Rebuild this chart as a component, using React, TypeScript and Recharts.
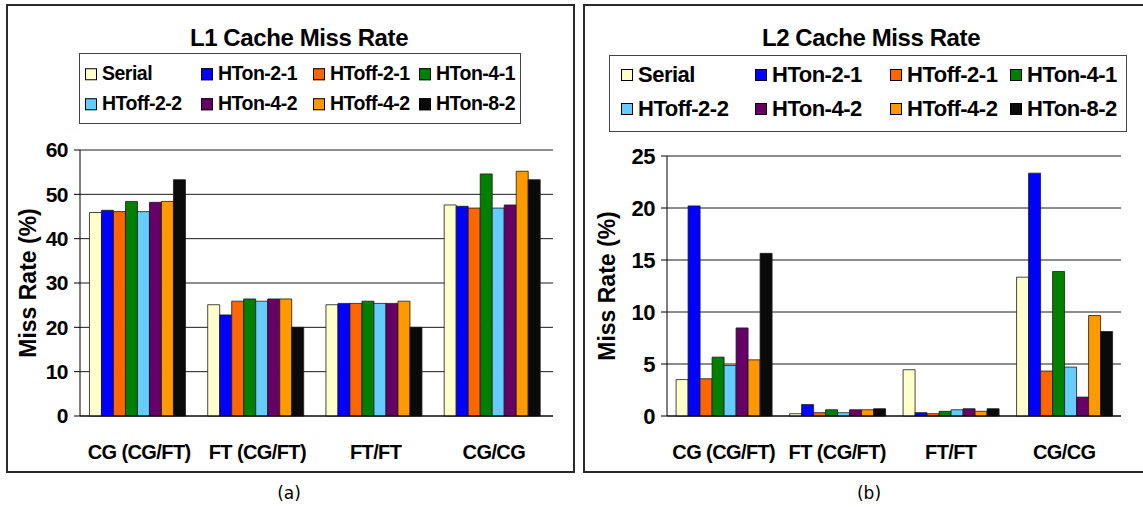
import React from 'react';
import { BarChart, Bar, XAxis, YAxis, CartesianGrid, Legend } from 'recharts';

// Workload categories along the x axis
const categories = ['CG (CG/FT)', 'FT (CG/FT)', 'FT/FT', 'CG/CG'];

// Configurations (series) and their fill colours
const seriesNames = ['Serial', 'HTon-2-1', 'HToff-2-1', 'HTon-4-1', 'HToff-2-2', 'HTon-4-2', 'HToff-4-2', 'HTon-8-2'];
const seriesColors = ['#FFFFCC', '#0000FF', '#FF6600', '#008000', '#66CCFF', '#660066', '#FF9900', '#0A0A0A'];

// L1 cache miss rate (%), one value per category
const l1Serial = [45.9, 25.1, 25.1, 47.6];
const l1HTon21 = [46.4, 22.8, 25.4, 47.3];
const l1HToff21 = [46.1, 25.9, 25.4, 46.9];
const l1HTon41 = [48.4, 26.4, 25.9, 54.6];
const l1HToff22 = [46.1, 25.9, 25.4, 46.9];
const l1HTon42 = [48.2, 26.4, 25.4, 47.6];
const l1HToff42 = [48.4, 26.4, 25.9, 55.2];
const l1HTon82 = [53.3, 20.0, 20.0, 53.3];

// L2 cache miss rate (%), one value per category
const l2Serial = [3.5, 0.22, 4.45, 13.35];
const l2HTon21 = [20.2, 1.1, 0.32, 23.35];
const l2HToff21 = [3.58, 0.32, 0.22, 4.32];
const l2HTon41 = [5.66, 0.6, 0.45, 13.9];
const l2HToff22 = [4.86, 0.32, 0.6, 4.7];
const l2HTon42 = [8.47, 0.6, 0.7, 1.82];
const l2HToff42 = [5.4, 0.6, 0.45, 9.66];
const l2HTon82 = [15.64, 0.7, 0.7, 8.12];

const l1Ticks = [0, 10, 20, 30, 40, 50, 60];
const l2Ticks = [0, 5, 10, 15, 20, 25];

const l1Series = [l1Serial, l1HTon21, l1HToff21, l1HTon41, l1HToff22, l1HTon42, l1HToff42, l1HTon82];
const l2Series = [l2Serial, l2HTon21, l2HToff21, l2HTon41, l2HToff22, l2HTon42, l2HToff42, l2HTon82];

const edgeTicks = [0, 1, 2, 3, 4];

const FONT = "'Liberation Sans', Arial, Helvetica, sans-serif";

function buildRows(series: number[][]) {
  return categories.map((name, i) => {
    const row: Record<string, string | number> = { name };
    seriesNames.forEach((s, j) => {
      row[s] = series[j][i];
    });
    return row;
  });
}

type LegendLayout = {
  x: number;
  y: number;
  w: number;
  h: number;
  cols: number[];
  rows: number[];
  fontSize: number;
};

type PanelProps = {
  title: string;
  caption: string;
  series: number[][];
  ticks: number[];
  left: number;
  width: number;
  margin: { top: number; right: number; left: number; bottom: number };
  tickFont: number;
  legend: LegendLayout;
  titleX: number;
  captionX: number;
  yLabelGap: number;
};

function LegendBox({ payload, layout }: { payload?: any[]; layout: LegendLayout }) {
  const items = [...(payload || [])].sort(
    (a, b) => seriesNames.indexOf(a.value) - seriesNames.indexOf(b.value)
  );
  return (
    <div
      style={{
        position: 'relative',
        width: layout.w,
        height: layout.h,
        border: '1px solid #444',
        boxSizing: 'border-box',
        background: '#fff',
      }}
    >
      {items.map((p, i) => {
        const col = i % 4;
        const row = Math.floor(i / 4);
        return (
          <div
            key={p.value}
            style={{
              position: 'absolute',
              left: layout.cols[col],
              top: layout.rows[row],
              transform: 'translateY(-50%)',
              display: 'flex',
              alignItems: 'center',
              whiteSpace: 'nowrap',
            }}
          >
            <span
              style={{
                display: 'inline-block',
                width: 10,
                height: 10,
                background: p.color,
                border: '1px solid #000',
                marginRight: 5,
              }}
            />
            <span
              style={{
                fontFamily: FONT,
                fontWeight: 'bold',
                fontSize: layout.fontSize,
                letterSpacing: -0.5,
                color: '#000',
                lineHeight: 1,
              }}
            >
              {p.value}
            </span>
          </div>
        );
      })}
    </div>
  );
}

function Panel(props: PanelProps) {
  const { title, caption, series, ticks, left, width, margin, tickFont, legend, titleX, captionX, yLabelGap } = props;
  const rows = buildRows(series);
  const yMax = ticks[ticks.length - 1];
  const height = 472;
  return (
    <>
      <div
        style={{
          position: 'absolute',
          left: titleX - 200,
          width: 400,
          top: 24,
          textAlign: 'center',
          fontFamily: FONT,
          fontWeight: 'bold',
          fontSize: 24,
          letterSpacing: -0.4,
          lineHeight: '28px',
          color: '#000',
        }}
      >
        {title}
      </div>
      <div style={{ position: 'absolute', left, top: 0 }}>
        <BarChart
          width={width}
          height={height}
          data={rows}
          margin={margin}
          barCategoryGap="8%"
          barGap={0}
        >
          <CartesianGrid vertical={false} stroke="#1a1a1a" strokeWidth={1} />
          <XAxis
            xAxisId="edge"
            type="number"
            domain={[0, 4]}
            ticks={edgeTicks}
            allowDataOverflow
            tick={false}
            tickLine={{ stroke: '#000' }}
            tickSize={7}
            axisLine={false}
            height={0}
          />
          <XAxis
            dataKey="name"
            tickLine={false}
            tickSize={0}
            tickMargin={29}
            axisLine={{ stroke: '#000', strokeWidth: 1 }}
            height={50}
            interval={0}
            tick={{ fill: '#000', fontSize: 20, fontWeight: 'bold', fontFamily: FONT, letterSpacing: -0.6 }}
          />
          <XAxis
            xAxisId="top"
            orientation="top"
            type="number"
            domain={[0, 1]}
            tick={false}
            tickLine={false}
            axisLine={{ stroke: '#8c8c8c' }}
            height={0}
          />
          <YAxis
            domain={[0, yMax]}
            ticks={ticks}
            interval={0}
            width={50}
            tickSize={6}
            tickMargin={6}
            tickLine={{ stroke: '#000' }}
            axisLine={{ stroke: '#000' }}
            tick={{ fill: '#000', fontSize: tickFont, fontWeight: 'bold', fontFamily: FONT, letterSpacing: -0.5 }}
            label={{
              content: ({ viewBox }: any) => {
                const cx = viewBox.x + viewBox.width - yLabelGap;
                const cy = viewBox.y + viewBox.height / 2;
                return (
                  <text
                    x={cx}
                    y={cy}
                    transform={`rotate(-90, ${cx}, ${cy})`}
                    textAnchor="middle"
                    dominantBaseline="central"
                    fontFamily={FONT}
                    fontWeight="bold"
                    fontSize={23}
                    fill="#000"
                  >
                    Miss Rate (%)
                  </text>
                );
              },
            }}
          />
          <YAxis
            yAxisId="right"
            orientation="right"
            domain={[0, 1]}
            tick={false}
            tickLine={false}
            axisLine={{ stroke: '#8c8c8c' }}
            width={0}
          />
          <Legend
            layout="vertical"
            align="center"
            verticalAlign="middle"
            wrapperStyle={{ left: legend.x, top: legend.y, width: legend.w, height: legend.h }}
            content={(p: any) => <LegendBox payload={p.payload} layout={legend} />}
          />
          {seriesNames.map((s, i) => (
            <Bar
              key={s}
              dataKey={s}
              name={s}
              fill={seriesColors[i]}
              stroke="#1a1a1a"
              strokeWidth={0.8}
              isAnimationActive={false}
            />
          ))}
        </BarChart>
      </div>
      <div
        style={{
          position: 'absolute',
          left: captionX - 50,
          width: 100,
          top: 482,
          textAlign: 'center',
          fontFamily: "'DejaVu Sans', Verdana, sans-serif",
          fontSize: 17,
          lineHeight: '22px',
          color: '#000',
        }}
      >
        {caption}
      </div>
    </>
  );
}

export default function App() {
  return (
    <div
      style={{
        position: 'absolute',
        left: 0,
        top: 0,
        width: 1143,
        height: 507,
        overflow: 'hidden',
        background: '#fff',
      }}
    >
      <div
        style={{
          position: 'absolute',
          left: 6,
          top: 4,
          width: 569,
          height: 469,
          border: '2px solid #2a2a2a',
          boxSizing: 'border-box',
        }}
      />
      <div
        style={{
          position: 'absolute',
          left: 583,
          top: 4,
          width: 600,
          height: 469,
          border: '2px solid #2a2a2a',
          boxSizing: 'border-box',
        }}
      />
      <Panel
        title="L1 Cache Miss Rate"
        caption="(a)"
        series={l1Series}
        ticks={l1Ticks}
        left={0}
        width={574}
        margin={{ top: 150, right: 21, left: 30, bottom: 6 }}
        tickFont={21}
        legend={{ x: 79, y: 53, w: 442, h: 71, cols: [5, 121, 233, 339], rows: [20, 50], fontSize: 19.5 }}
        titleX={299}
        captionX={289}
        yLabelGap={52}
      />
      <Panel
        title="L2 Cache Miss Rate"
        caption="(b)"
        series={l2Series}
        ticks={l2Ticks}
        left={584}
        width={559}
        margin={{ top: 156, right: 22, left: 33, bottom: 6 }}
        tickFont={22}
        legend={{ x: 25, y: 55, w: 518, h: 77, cols: [11, 145, 280, 400], rows: [19, 53], fontSize: 22 }}
        titleX={871}
        captionX={869}
        yLabelGap={60}
      />
    </div>
  );
}
